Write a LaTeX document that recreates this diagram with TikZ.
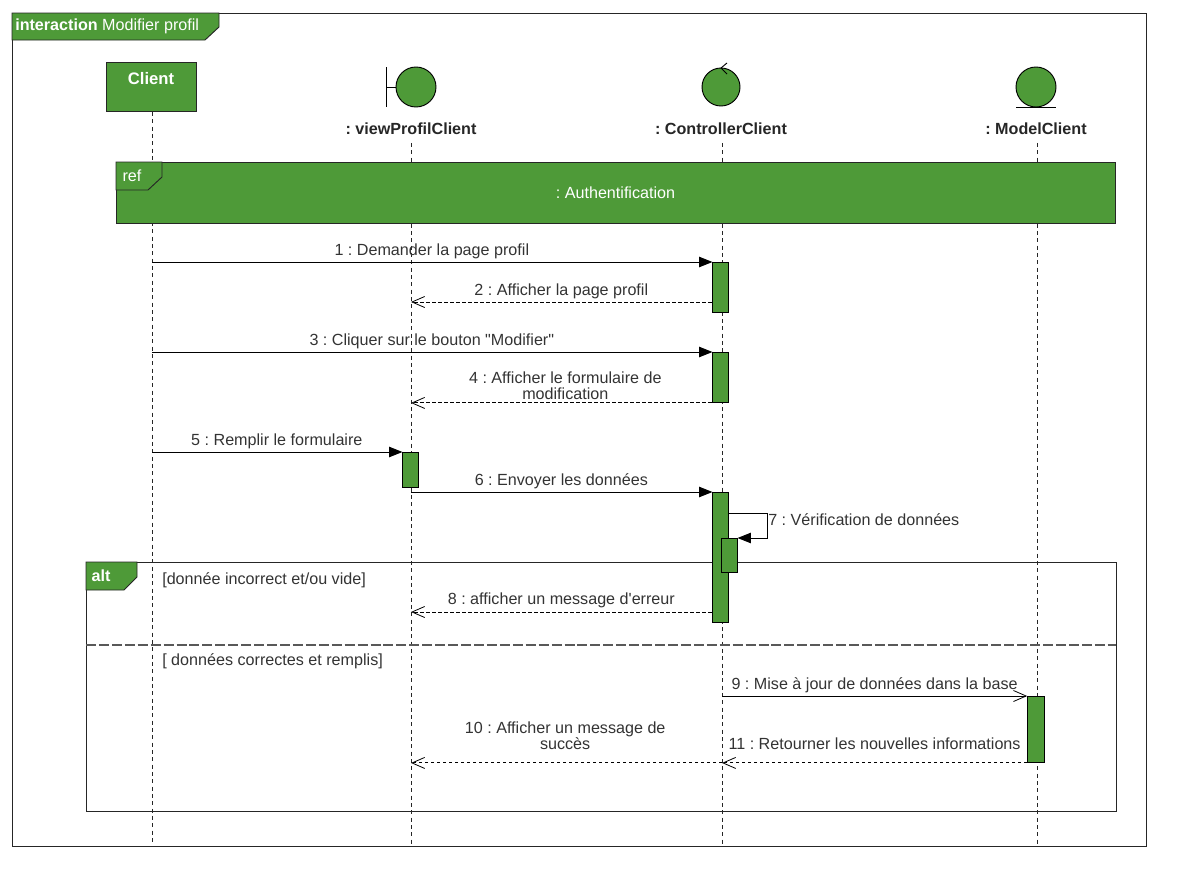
\documentclass[tikz,border=0pt]{standalone}
\usepackage{fontspec}
\setmainfont{Liberation Sans}[Ligatures=TeXOff]
\usetikzlibrary{
  arrows.meta,
  positioning
}
\definecolor{umlgreen}{HTML}{4E9A38}
\definecolor{msgtext}{HTML}{333333}
\tikzset{
  syncmsg/.style  = {-{Triangle[length=10pt, width=7.8pt]}, line width=0.7pt, shorten >=-0.6pt},
  callmsg/.style  = {-{Straight Barb[length=9.5pt, width=8.25pt, line width=0.6pt]}, line width=0.7pt},
  replymsg/.style = {-{Straight Barb[length=9.5pt, width=8.25pt, line width=0.6pt]}, line width=0.7pt,
                     dash pattern=on 2.5pt off 2pt},
  lifeline/.style = {line width=0.7pt, dash pattern=on 3pt off 2.5pt, black!85},
  tabshape/.style = {draw=black!85, fill=umlgreen, line width=0.7pt},
  frameline/.style = {draw=black!85, line width=0.7pt},
  actbox/.style   = {draw=black, fill=umlgreen, line width=0.7pt, minimum width=12.6pt, inner sep=0pt},
  headlabel/.style = {font=\fontsize{12.1}{14}\selectfont\bfseries, text=black!85, inner sep=0pt},
  msglabel/.style = {font=\fontsize{12.1}{12}\selectfont, text=msgtext, align=center, inner sep=0pt},
  tablabel/.style = {font=\fontsize{12.1}{14}\selectfont, text=white, inner sep=0pt},
}

\begin{document}
\frenchspacing
\begin{tikzpicture}[x=0.75pt, y=-0.75pt]
\useasboundingbox (0,0) rectangle (1196,896);

% ========== Lifeline heads ==========
\node[tabshape, minimum width=67.5pt, minimum height=36.75pt, anchor=north west] (client) at (106,62) {};
\node[font=\fontsize{12.5}{14}\selectfont\bfseries, text=white, inner sep=0pt] (clienttext) at (151,78.6) {Client};

\node[headlabel] (viewlabel) at (411,128.8) {: viewProfilClient};
\node[headlabel] (ctrllabel) at (721,128.8) {: ControllerClient};
\node[headlabel] (modellabel) at (1036,128.8) {: ModelClient};

\coordinate (clientend) at (152,845);
\coordinate (viewend) at (411,845);
\coordinate (ctrlend) at (722,845);
\coordinate (modelend) at (1037,845);
\draw[lifeline] (client.south -| clientend) -- (clientend);
\draw[lifeline] ([yshift=-6pt]viewlabel.south -| viewend) -- (viewend);
\draw[lifeline] ([yshift=-6pt]ctrllabel.south -| ctrlend) -- (ctrlend);
\draw[lifeline] ([yshift=-6pt]modellabel.south -| modelend) -- (modelend);

\node[draw=black, fill=umlgreen, circle, line width=0.7pt, minimum size=30pt, inner sep=0pt] (viewcirc) at (416,87) {};
\draw[line width=0.7pt] (386,67) -- (386,107);
\draw[line width=0.7pt] (386,87) -- (viewcirc.west);

\node[draw=black, fill=umlgreen, circle, line width=0.7pt, minimum size=28.5pt, inner sep=0pt] (ctrlcirc) at (721,87) {};
\draw[line width=0.7pt] (727,63) -- (721,68) -- (727,74);

\node[draw=black, fill=umlgreen, circle, line width=0.7pt, minimum size=30pt, inner sep=0pt] (modelcirc) at (1036,87) {};
\draw[line width=0.7pt] (1016,107) -- (1056,107);

% ========== Outer frame ==========
\draw[frameline] (12,13) rectangle (1146,846);
\draw[tabshape] (12,13) -- (219,13) -- (219,27) -- (205,40) -- (12,40) -- cycle;
\node[tablabel, anchor=west] (frametitle) at (15,26.3) {\textbf{interaction} Modifier profil};

% ========== ref: Authentification ==========
\draw[tabshape] (116,162) rectangle (1115,223);
\draw[tabshape] (116,162) -- (162,162) -- (162,177) -- (148,190) -- (116,190) -- cycle;
\node[tablabel] (reftab) at (132,176) {ref};
\node[tablabel] (reftext) at (615.5,192.8) {: Authentification};

% ========== alt ==========
\draw[frameline] (86,562) rectangle (1116,811);
\draw[tabshape] (86,562) -- (137,562) -- (137,577) -- (124,590) -- (86,590) -- cycle;
\node[tablabel, font=\fontsize{12.1}{14}\selectfont\bfseries] (alttab) at (101,575.8) {alt};
\node[msglabel, anchor=west] (guard1) at (162,580.5) {[donnée incorrect et/ou vide]};
\coordinate (altleft) at (86,645);
\coordinate (altright) at (1116,645);
\draw[line width=0.95pt, black!65, dash pattern=on 7.5pt off 2.2pt] (altleft) -- (altright);
\node[msglabel, anchor=west] (guard2) at (162,661) {[ données correctes et remplis]};

% ========== Activations ==========
\node[actbox, minimum height=37.5pt, anchor=north] (act1) at (720.5,262) {};
\node[actbox, minimum height=37.5pt, anchor=north] (act2) at (720.5,352) {};
\node[actbox, minimum height=26.25pt, anchor=north] (act3) at (410.5,452) {};
\node[actbox, minimum height=97.5pt, anchor=north] (act4) at (720.5,492) {};
\node[actbox, minimum height=25.5pt, anchor=north] (act5) at (729.5,538) {};
\node[actbox, minimum height=49.5pt, anchor=north] (act6) at (1036,696) {};

% ========== Messages ==========
\draw[syncmsg] (act1.north west -| clientend) -- (act1.north west)
  node[msglabel, midway, yshift=7.9pt] (msg1) {1 : Demander la page profil};
\coordinate (reply2) at ([yshift=-30pt]act1.north west);
\draw[replymsg] (reply2) -- (reply2 -| viewend)
  node[msglabel, midway, yshift=7.9pt] (msg2) {2 : Afficher la page profil};

\draw[syncmsg] (act2.north west -| clientend) -- (act2.north west)
  node[msglabel, midway, yshift=7.9pt] (msg3) {3 : Cliquer sur le bouton "Modifier"};
\draw[replymsg] (act2.south west) -- (act2.south west -| viewend)
  node[msglabel, midway, xshift=3pt, yshift=12.8pt] (msg4) {4 : Afficher le formulaire de\\modification};

\draw[syncmsg] (act3.north west -| clientend) -- (act3.north west)
  node[msglabel, midway, yshift=7.9pt] (msg5) {5 : Remplir le formulaire};
\draw[syncmsg] (act4.north west -| viewend) -- (act4.north west)
  node[msglabel, midway, yshift=8.4pt] (msg6) {6 : Envoyer les données};

\coordinate (selfstart) at ([yshift=-15.75pt]act4.north east);
\coordinate (selfcorner) at (767,513);
\draw[syncmsg] (selfstart) -- (selfcorner) |- (act5.north east);
\node[msglabel, anchor=west] (msg7) at (768,519.6) {7 : Vérification de données};

\coordinate (reply8) at ([yshift=-90pt]act4.north west);
\draw[replymsg] (reply8) -- (reply8 -| viewend)
  node[msglabel, midway, yshift=9pt] (msg8) {8 : afficher un message d'erreur};

\draw[callmsg] (act6.north west -| ctrlend) -- (act6.north west)
  node[msglabel, midway, yshift=8.4pt] (msg9) {9 : Mise à jour de données dans la base};
\draw[replymsg] (act6.south west) -- (act6.south west -| ctrlend)
  node[msglabel, midway, yshift=14.3pt] (msg11) {11 : Retourner les nouvelles informations};
\draw[replymsg] (act6.south west -| ctrlend) -- (act6.south west -| viewend)
  node[msglabel, midway, xshift=-1pt, yshift=20.1pt] (msg10) {10 : Afficher un message de\\succès};

\end{tikzpicture}
\end{document}
